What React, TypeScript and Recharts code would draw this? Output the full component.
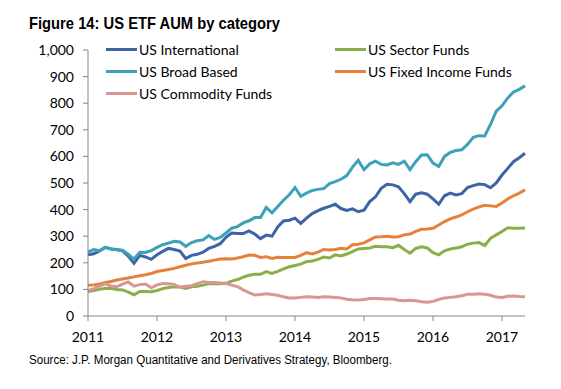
import React from 'react';
import { LineChart, Line, XAxis, YAxis } from 'recharts';

// monthly values, Jan 2011 .. May 2017 (USD bn)
const usInternational = [
  230, 234, 245, 258, 252, 250, 245, 225, 198, 228, 222, 213,
  230, 243, 254, 250, 244, 216, 228, 232, 240, 254, 262, 272,
  296, 312, 310, 310, 320, 308, 291, 304, 300, 335, 357, 360,
  368, 348, 368, 385, 396, 405, 412, 420, 404, 397, 403, 392,
  398, 430, 448, 480, 495, 493, 486, 460, 430, 458, 463, 458,
  440, 420, 452, 462, 455, 460, 483, 490, 496, 494, 482, 500,
  530, 555, 580, 595, 612,
];
const usBroadBased = [
  241, 250, 245, 258, 252, 249, 247, 232, 214, 240, 239, 246,
  258, 268, 274, 281, 278, 262, 276, 283, 286, 302, 288, 295,
  312, 330, 336, 350, 358, 370, 370, 408, 388, 412, 435, 456,
  483, 450, 462, 472, 476, 479, 498, 505, 514, 528, 560, 585,
  550, 572, 582, 570, 568, 576, 570, 582, 550, 580, 605, 606,
  575, 562, 600, 615, 622, 625, 645, 672, 678, 677, 720, 770,
  790, 820, 842, 852, 865,
];
const usCommodity = [
  95, 103, 112, 122, 113, 110, 120, 128, 112, 118, 120, 106,
  117, 122, 121, 119, 108, 112, 114, 122, 129, 126, 126, 124,
  122, 116, 110, 98, 88, 79, 81, 84, 81, 78, 72, 68,
  68, 70, 72, 71, 70, 72, 71, 70, 68, 63, 61, 60,
  62, 66, 66, 65, 64, 64, 59, 57, 59, 57, 54, 52,
  55, 62, 68, 70, 72, 76, 82, 82, 84, 82, 78, 71,
  70, 74, 75, 73, 72,
];
const usSector = [
  92, 96, 100, 104, 103, 100, 98, 90, 80, 92, 92, 91,
  96, 103, 107, 110, 109, 104, 110, 112, 116, 121, 121, 121,
  123, 131, 137, 146, 153, 157, 157, 167, 160, 168, 177, 185,
  190, 195, 204, 207, 213, 222, 218, 230, 226, 233, 242, 252,
  254, 256, 262, 260, 260, 257, 266, 250, 236, 254, 260, 256,
  238, 230, 245, 252, 256, 260, 270, 274, 276, 265, 292, 305,
  318, 332, 330, 330, 331,
];
const usFixedIncome = [
  116, 117, 120, 126, 130, 135, 139, 143, 147, 151, 155, 160,
  167, 171, 175, 179, 185, 191, 196, 199, 202, 206, 210, 214,
  215, 214, 218, 223, 229, 228, 220, 223, 216, 221, 220, 220,
  220, 228, 238, 233, 240, 250, 248, 250, 255, 252, 268, 270,
  275, 286, 297, 298, 300, 297, 298, 305, 308, 318, 326, 327,
  330, 342, 355, 365, 372, 380, 392, 402, 410, 416, 414, 412,
  425, 440, 452, 462, 474,
];

const yearTicks = [0, 12, 24, 36, 48, 60, 72];
const startYear = 2011;
const valueTicks = [0, 100, 200, 300, 400, 500, 600, 700, 800, 900, 1000];

const data = usInternational.map((v, i) => ({
  m: i,
  intl: v,
  broad: usBroadBased[i],
  commodity: usCommodity[i],
  sector: usSector[i],
  fixed: usFixedIncome[i],
}));

// legend order follows the reference (row by row, two columns)
const series = [
  { key: 'intl', name: 'US International', color: '#3D64A6' },
  { key: 'sector', name: 'US Sector Funds', color: '#8BAE4A' },
  { key: 'broad', name: 'US Broad Based', color: '#3DA1B9' },
  { key: 'fixed', name: 'US Fixed Income Funds', color: '#E6803A' },
  { key: 'commodity', name: 'US Commodity Funds', color: '#D99694' },
];

const FONT = 'Lato, "Open Sans", sans-serif';
const AXIS = '#868686';

function LegendGrid() {
  return (
    <div
      style={{
        position: 'absolute',
        left: 106,
        top: 38,
        display: 'grid',
        gridTemplateColumns: '229px 200px',
      }}
    >
      {series.map((s) => (
        <div key={s.key} style={{ display: 'flex', alignItems: 'center', height: 22 }}>
          <span style={{ display: 'inline-block', width: 31, height: 3, background: s.color, marginRight: 2 }} />
          <span style={{ fontFamily: FONT, fontSize: 14, color: '#000', whiteSpace: 'nowrap' }}>{s.name}</span>
        </div>
      ))}
    </div>
  );
}

export default function App() {
  return (
    <div style={{ position: 'absolute', left: 0, top: 0, width: 561, height: 389, background: '#fff' }}>
      <svg width={561} height={40} style={{ position: 'absolute', left: 0, top: 0 }}>
        <text
          x={29}
          y={29}
          fontFamily='"Liberation Sans", Arial, sans-serif'
          fontWeight="bold"
          fontSize={17}
          textLength={251}
          lengthAdjust="spacingAndGlyphs"
          fill="#000"
        >
          Figure 14: US ETF AUM by category
        </text>
      </svg>
      <LineChart
        width={561}
        height={389}
        data={data}
        margin={{ top: 50, right: 36, left: 0, bottom: 43 }}
      >
        <XAxis
          type="number"
          dataKey="m"
          domain={[0, 76]}
          ticks={yearTicks}
          tickFormatter={(v) => String(startYear + v / 12)}
          stroke={AXIS}
          tickSize={5}
          tickMargin={11}
          height={30}
          tick={{ fill: '#000', fontFamily: FONT, fontSize: 14 }}
        />
        <YAxis
          domain={[0, 1000]}
          ticks={valueTicks}
          tickFormatter={(v) => v.toLocaleString('en-US')}
          stroke={AXIS}
          tickSize={5}
          tickMargin={9}
          width={88}
          tick={{ fill: '#000', fontFamily: FONT, fontSize: 14 }}
          interval={0}
        />
        {series.map((s) => (
          <Line
            key={s.key}
            name={s.name}
            dataKey={s.key}
            stroke={s.color}
            strokeWidth={3}
            dot={false}
            isAnimationActive={false}
          />
        ))}
      </LineChart>
      <LegendGrid />
      <svg width={561} height={30} style={{ position: 'absolute', left: 0, top: 350 }}>
        <text
          x={29}
          y={14}
          fontFamily='"Liberation Sans", Arial, sans-serif'
          fontSize={12}
          textLength={363}
          lengthAdjust="spacingAndGlyphs"
          fill="#000"
        >
          Source: J.P. Morgan Quantitative and Derivatives Strategy, Bloomberg.
        </text>
      </svg>
    </div>
  );
}
